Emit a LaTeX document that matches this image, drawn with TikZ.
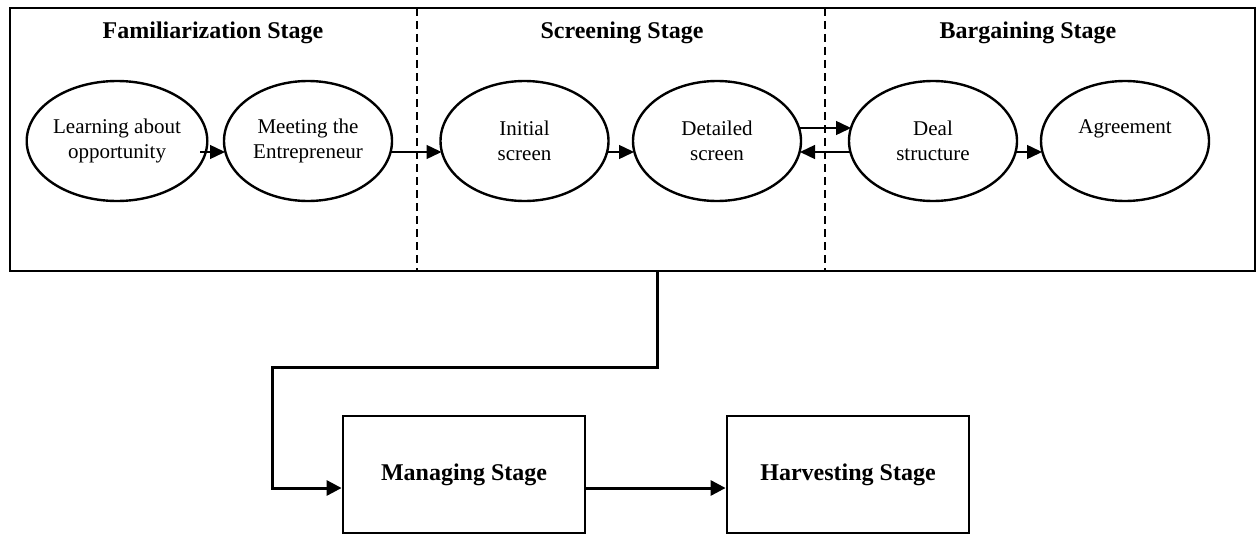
\documentclass[tikz,border=0pt]{standalone}
\usepackage{fontspec}
\setmainfont{Liberation Serif}
\usetikzlibrary{arrows.meta,calc,shapes.geometric}
\begin{document}
\begin{tikzpicture}[x=1pt,y=-1pt,
  stagebox/.style={draw,line width=2.8pt,minimum width=1245pt,minimum height=263pt,inner sep=0pt},
  phase/.style={draw,ellipse,line width=2.4pt,minimum width=168pt,minimum height=120pt,inner sep=0pt,align=center,font=\fontsize{21}{25}\selectfont},
  ttl/.style={font=\bfseries\fontsize{24}{28}\selectfont},
  sqbox/.style={draw,line width=2.8pt,minimum width=242pt,minimum height=117pt,inner sep=0pt,font=\bfseries\fontsize{24}{28}\selectfont},
  thin arrow/.style={line width=1.4pt,-{Triangle[length=15pt,width=14pt]}},
  thick arrow/.style={line width=3pt,-{Triangle[length=15pt,width=15pt]}},
  divider/.style={line width=1.5pt,dash pattern=on 8pt off 5pt}
]
\useasboundingbox (0,0) rectangle (1257,535);
\node[stagebox] (outer) at (632.5,139.5) {};
\draw[divider] (417,8) -- (417,271);
\draw[divider] (825,8) -- (825,271);
\node[ttl] (t1) at (213,33) {Familiarization Stage};
\node[ttl] (t2) at (622,33) {Screening Stage};
\node[ttl] (t3) at (1028,33) {Bargaining Stage};
\node[phase] (L) at (117,141) {Learning about\\opportunity};
\node[phase] (M) at (308,141) {Meeting the\\Entrepreneur};
\node[phase] (I) at (524.5,141) {Initial\\screen};
\node[phase] (D) at (717,141) {Detailed\\screen};
\node[phase] (S) at (933,141) {Deal\\structure};
\node[phase] (A) at (1125,141) {Agreement\\[-3pt]\strut};
\draw[thin arrow] ($(L.center)+(83,11)$) -- ($(M.center)+(-83,11)$);
\draw[thin arrow] ($(M.center)+(83,11)$) -- ($(I.center)+(-83,11)$);
\draw[thin arrow] ($(I.center)+(83,11)$) -- ($(D.center)+(-83,11)$);
\draw[thin arrow] ($(D.center)+(82,-13)$) -- ($(S.center)+(-82,-13)$);
\draw[thin arrow] ($(S.center)+(-83,11)$) -- ($(D.center)+(83,11)$);
\draw[thin arrow] ($(S.center)+(83,11)$) -- ($(A.center)+(-83,11)$);
\node[sqbox] (MS) at (464,474.5) {Managing Stage};
\node[sqbox] (HS) at (848,474.5) {Harvesting Stage};
\coordinate (drop) at (outer.south -| 657,0);
\draw[thick arrow,line join=miter] (drop) -- (657,367) -- (272,367) -- (272,488) -- (MS.west |- 0,488);
\draw[thick arrow] (MS.east |- 0,488) -- (HS.west |- 0,488);
\end{tikzpicture}
\end{document}
